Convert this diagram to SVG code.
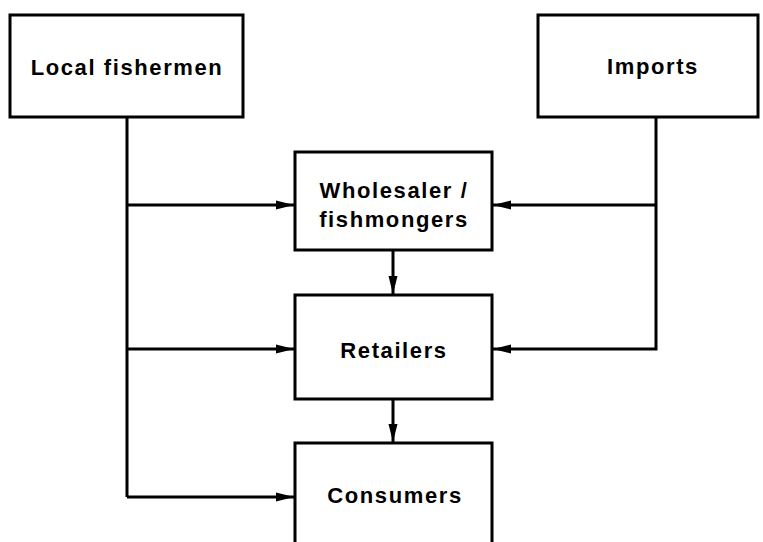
<svg xmlns="http://www.w3.org/2000/svg" width="763" height="542" viewBox="0 0 763 542">
<style>
.box{fill:#fff;stroke:#000;stroke-width:3}
.lbl{font-family:"Liberation Sans",Arial,sans-serif;font-weight:bold;font-size:22px;letter-spacing:1.6px;text-anchor:middle;fill:#000}
.ln{fill:none;stroke:#000;stroke-width:3}
</style>
<defs>
<marker id="ah" markerWidth="18" markerHeight="11" refX="18" refY="5.5" orient="auto" markerUnits="userSpaceOnUse">
<path d="M0,1 L18,5.5 L0,10 Z" fill="#000"/>
</marker>
</defs>
<rect width="763" height="542" fill="#fff"/>
<g id="connectors">
<path class="ln" d="M127,117 V497"/>
<path class="ln" d="M127,205 H294" marker-end="url(#ah)"/>
<path class="ln" d="M127,349 H294" marker-end="url(#ah)"/>
<path class="ln" d="M127,497 H294" marker-end="url(#ah)"/>
<path class="ln" d="M656,117 V349 H493" marker-end="url(#ah)"/>
<path class="ln" d="M656,205 H493" marker-end="url(#ah)"/>
<path class="ln" d="M393,250 V294" marker-end="url(#ah)"/>
<path class="ln" d="M393,399 V442" marker-end="url(#ah)"/>
</g>
<g id="local"><rect class="box" x="10" y="15" width="233" height="102"/><text class="lbl" x="127" y="75">Local fishermen</text></g>
<g id="imports"><rect class="box" x="538" y="15" width="220" height="102"/><text class="lbl" x="653" y="74">Imports</text></g>
<g id="wholesaler"><rect class="box" x="295" y="152" width="197" height="98"/><text class="lbl" x="394" y="198">Wholesaler /</text><text class="lbl" x="394" y="227">fishmongers</text></g>
<g id="retailers"><rect class="box" x="295" y="295" width="197" height="104"/><text class="lbl" x="394" y="358">Retailers</text></g>
<g id="consumers"><rect class="box" x="295" y="443" width="197" height="110"/><text class="lbl" x="395" y="503">Consumers</text></g>
</svg>
